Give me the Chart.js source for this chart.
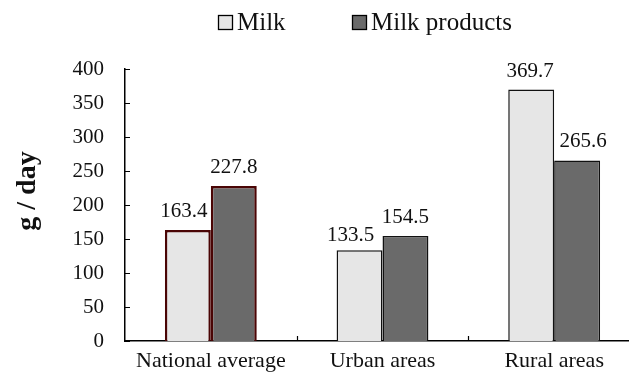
<!DOCTYPE html>
<html>
<head>
<meta charset="utf-8">
<script src="https://cdn.jsdelivr.net/npm/chart.js@4"></script>
<style>
  html, body { margin: 0; padding: 0; background: #fff; overflow: hidden; }
  #wrap { width: 650px; height: 380px; }
</style>
</head>
<body>
<div id="wrap"><canvas id="c" width="650" height="380"></canvas></div>
<script>
const categories = ['National average', 'Urban areas', 'Rural areas'];
const milk = [163.4, 133.5, 369.7];
const milkProducts = [227.8, 154.5, 265.6];
const yTicks = [0, 50, 100, 150, 200, 250, 300, 350, 400];

const FONT = '"Liberation Serif", "Times New Roman", serif';
const LIGHT = '#e6e6e6';
const DARK = '#6a6a6a';
const EDGE = '#111111';
const HIGHLIGHT = '#4a0505';

// Borders: the national average pair is outlined in dark red
const borderColors = categories.map((c, i) => i === 0 ? HIGHLIGHT : EDGE);
const borderWidths = categories.map((c, i) => i === 0 ? 2.5 : 1.5);

// Short inward tick marks on both axes
const innerTicks = {
  id: 'innerTicks',
  afterDraw(chart) {
    const { ctx } = chart;
    const y = chart.scales.y, x = chart.scales.x;
    ctx.save();
    ctx.strokeStyle = '#000';
    ctx.lineWidth = 1.2;
    ctx.beginPath();
    yTicks.forEach(v => {
      const py = Math.round(y.getPixelForValue(v)) + 0.5;
      ctx.moveTo(x.left, py);
      ctx.lineTo(x.left + 5, py);
    });
    for (let i = 0; i < categories.length - 1; i++) {
      const px = Math.round((x.getPixelForValue(i) + x.getPixelForValue(i + 1)) / 2) + 0.5;
      ctx.moveTo(px, y.bottom);
      ctx.lineTo(px, y.bottom - 5);
    }
    ctx.stroke();
    ctx.restore();
  }
};

// Value labels above each bar; a few are shifted sideways so neighbours don't collide
const valueLabels = {
  id: 'valueLabels',
  afterDatasetsDraw(chart, args, opts) {
    const { ctx } = chart;
    const shift = opts.shift || [];
    ctx.save();
    ctx.font = '21px ' + FONT;
    ctx.fillStyle = '#111';
    ctx.textAlign = 'center';
    ctx.textBaseline = 'alphabetic';
    chart.data.datasets.forEach((ds, di) => {
      chart.getDatasetMeta(di).data.forEach((bar, i) => {
        const s = (shift[di] && shift[di][i]) || [0, 0];
        ctx.fillText(ds.data[i].toFixed(1), bar.x + s[0], bar.y - 13 + s[1]);
      });
    });
    ctx.restore();
  }
};

// Legend row across the top
const topLegend = {
  id: 'topLegend',
  afterDraw(chart) {
    const { ctx } = chart;
    const items = [{ x: 218, ds: 0 }, { x: 352, ds: 1 }];
    ctx.save();
    ctx.font = '25px ' + FONT;
    ctx.textBaseline = 'alphabetic';
    ctx.textAlign = 'left';
    items.forEach(it => {
      const ds = chart.data.datasets[it.ds];
      ctx.fillStyle = ds.backgroundColor;
      ctx.fillRect(it.x, 15, 15, 15);
      ctx.strokeStyle = '#000';
      ctx.lineWidth = 1.3;
      ctx.strokeRect(it.x + 0.5, 15.5, 14, 14);
      ctx.fillStyle = '#111';
      ctx.fillText(ds.label, it.x + 19, 30);
    });
    ctx.restore();
  }
};

// Rotated y-axis caption
const yCaption = {
  id: 'yCaption',
  afterDraw(chart) {
    const { ctx } = chart;
    ctx.save();
    ctx.translate(28, 191);
    ctx.rotate(-Math.PI / 2);
    ctx.font = 'bold 28px ' + FONT;
    ctx.fillStyle = '#111';
    ctx.textAlign = 'center';
    ctx.textBaseline = 'middle';
    ctx.fillText('g / day', 0, 0);
    ctx.restore();
  }
};

new Chart(document.getElementById('c'), {
  type: 'bar',
  data: {
    labels: categories,
    datasets: [
      { label: 'Milk', data: milk, backgroundColor: LIGHT,
        borderColor: borderColors, borderWidth: borderWidths, borderSkipped: 'bottom' },
      { label: 'Milk products', data: milkProducts, backgroundColor: DARK,
        borderColor: borderColors, borderWidth: borderWidths, borderSkipped: 'bottom' }
    ]
  },
  options: {
    responsive: false,
    animation: false,
    events: [],
    layout: { padding: { top: 69, right: 10, bottom: 0, left: 0 } },
    categoryPercentage: 0.535,
    barPercentage: 1.0,
    plugins: {
      legend: { display: false },
      tooltip: { enabled: false },
      valueLabels: { shift: [[[-4, 0], [-9, 4], [-1, 0]], [[0, 0], [0, 0], [6, 0]]] }
    },
    scales: {
      x: {
        grid: { display: false, drawTicks: false },
        border: { display: true, color: '#000', width: 1.5 },
        ticks: { color: '#111', font: { family: FONT, size: 22 }, padding: 7, maxRotation: 0 },
        afterFit(scale) { scale.height = 39; }
      },
      y: {
        min: 0, max: 400,
        afterBuildTicks(scale) { scale.ticks = yTicks.map(v => ({ value: v })); },
        grid: { display: false, drawTicks: false },
        border: { display: true, color: '#000', width: 1.5 },
        ticks: { color: '#111', font: { family: FONT, size: 21 }, padding: 21 },
        afterFit(scale) { scale.width = 125; }
      }
    }
  },
  plugins: [innerTicks, valueLabels, topLegend, yCaption]
});
</script>
</body>
</html>
